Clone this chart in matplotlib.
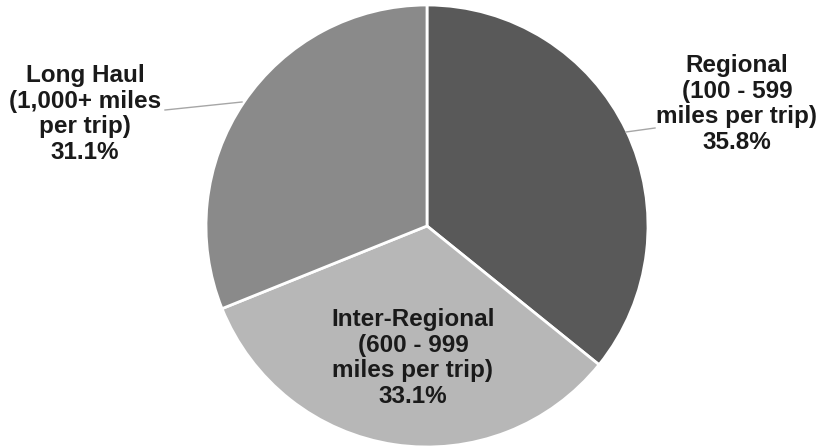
import matplotlib.pyplot as plt

# trip length shares
labels = ["Regional\n(100 - 599\nmiles per trip)",
          "Inter-Regional\n(600 - 999\nmiles per trip)",
          "Long Haul\n(1,000+ miles\nper trip)"]
shares = [35.8, 33.1, 31.1]
colors = ["#595959", "#b7b7b7", "#8a8a8a"]

W, H = 821, 447
cx, cy, r = 427, H - 226, 221

fig = plt.figure(figsize=(W / 100, H / 100), dpi=100)
ax = fig.add_axes([0, 0, 1, 1])
ax.pie(shares, colors=colors, startangle=90, counterclock=False,
       center=(cx, cy), radius=r,
       wedgeprops=dict(edgecolor="white", linewidth=2))
ax.set_xlim(0, W)
ax.set_ylim(0, H)
ax.set_aspect("equal")
ax.axis("off")

font = dict(family="Liberation Sans", weight="bold", fontsize=17.5,
            ha="center", va="center", multialignment="center",
            linespacing=1.16, color="#1a1a1a")

# label positions in pixels (x, y from top)
pos = [(737, 104), (413, 358), (85, 114)]
for lab, val, (x, y) in zip(labels, shares, pos):
    ax.text(x, H - y, f"{lab}\n{val:.1f}%", **font)

# leader lines
ax.plot([626, 655], [H - 132, H - 128], color="#a6a6a6", lw=1)
ax.plot([242, 165], [H - 102, H - 110], color="#a6a6a6", lw=1)

fig.savefig("out.png", dpi=100)
